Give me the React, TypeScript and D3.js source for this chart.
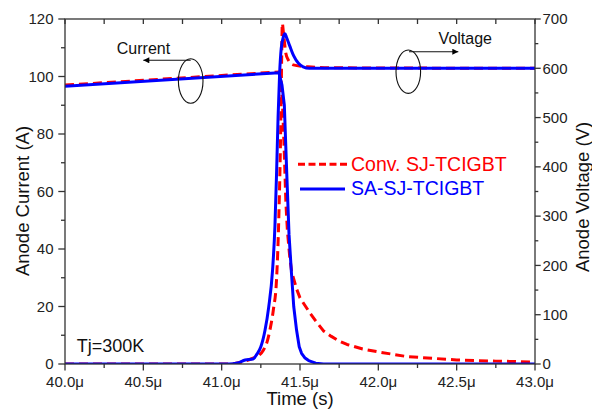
import React from "react";
import * as d3 from "d3";

// ---------- data (time in µs) ----------
const convCurrentT = [40.0, 41.37, 41.38, 41.39, 41.40, 41.41, 41.42, 41.435, 41.447, 41.479, 41.5, 41.564, 41.6, 41.65, 41.7, 41.75, 41.8, 41.9, 42.0, 42.18, 42.5, 42.75, 43.0];
const convCurrentA = [97.0, 101.6, 98, 88, 73, 56, 46, 37, 32, 26, 23, 17.7, 15, 11.5, 9.6, 8, 6.8, 5.2, 4.2, 2.6, 1.4, 1.0, 0.7];

const saCurrentT = [40.0, 41.366, 41.385, 41.40, 41.415, 41.43, 41.445, 41.46, 41.478, 41.495, 41.51, 41.53, 41.555, 41.6, 41.65, 43.0];
const saCurrentA = [96.6, 101.3, 97, 90, 67, 45, 32, 20, 11.8, 6, 3.7, 2.2, 1.2, 0.3, 0, 0];

const convVoltageT = [40.0, 41.05, 41.1, 41.15, 41.2, 41.24, 41.266, 41.29, 41.308, 41.33, 41.35, 41.365, 41.377, 41.383, 41.387, 41.395, 41.41, 41.425, 41.457, 41.55, 41.7, 43.0];
const convVoltageV = [0, 0, 2, 6, 12, 18, 28, 45, 69, 110, 170, 300, 480, 620, 691, 670, 630, 617, 607, 603, 601, 600];

const saVoltageT = [40.0, 41.05, 41.1, 41.15, 41.2, 41.225, 41.25, 41.277, 41.3, 41.325, 41.34, 41.351, 41.36, 41.37, 41.38, 41.395, 41.404, 41.415, 41.435, 41.46, 41.49, 41.52, 41.56, 43.0];
const saVoltageV = [0, 0, 2, 8, 10, 20, 35, 69, 115, 191, 280, 394, 500, 590, 640, 665, 670, 662, 645, 625, 610, 603, 600, 600];

const xTicks = [40.0, 40.5, 41.0, 41.5, 42.0, 42.5, 43.0];
const leftTicks = [0, 20, 40, 60, 80, 100, 120];
const rightTicks = [0, 100, 200, 300, 400, 500, 600, 700];

const legendLabels = ["Conv. SJ-TCIGBT", "SA-SJ-TCIGBT"];

// ---------- layout ----------
const W = 592, H = 413;
const L = 65, R = 535, T = 19, B = 364;
const FONT = "'Liberation Sans', Arial, Helvetica, sans-serif";
const RED = "#ff0000";
const BLUE = "#0000ff";
const AX = "#333333";

export default function App() {
  const x = d3.scaleLinear().domain([40, 43]).range([L, R]);
  const yL = d3.scaleLinear().domain([0, 120]).range([B, T]);
  const yR = d3.scaleLinear().domain([0, 700]).range([B, T]);

  const mk = (ts: number[], vs: number[], ys: d3.ScaleLinear<number, number>, curve: d3.CurveFactory) =>
    d3.line<number>().x((_, i) => x(ts[i])).y((v) => ys(v)).curve(curve)(vs) || "";

  const convI = mk(convCurrentT, convCurrentA, yL, d3.curveLinear);
  const saI = mk(saCurrentT, saCurrentA, yL, d3.curveLinear);
  const convV = mk(convVoltageT, convVoltageV, yR, d3.curveMonotoneX);
  const saV = mk(saVoltageT, saVoltageV, yR, d3.curveMonotoneX);

  const xMinor = d3.range(40.25, 43, 0.5);
  const leftMinor = d3.range(10, 120, 20);
  const rightMinor = d3.range(50, 700, 100);
  const fmt = d3.format(".1f");

  return (
    <svg width={W} height={H} style={{ position: "absolute", left: 0, top: 0, background: "#fff" }} fontFamily={FONT}>
      <defs>
        <clipPath id="plot">
          <rect x={L} y={T - 10} width={R - L} height={B - T + 10} />
        </clipPath>
        <marker id="arr" viewBox="0 0 10 10" refX="10" refY="5" markerWidth="8" markerHeight="6" orient="auto" markerUnits="userSpaceOnUse">
          <path d="M0,0 L10,5 L0,10 z" fill="#000" />
        </marker>
      </defs>

      {/* curves */}
      <g clipPath="url(#plot)" fill="none" strokeLinejoin="round">
        <path d={convI} stroke={RED} strokeWidth={3} strokeDasharray="9,5" />
        <path d={convV} stroke={RED} strokeWidth={3} strokeDasharray="9,5" />
        <path d={saI} stroke={BLUE} strokeWidth={3} />
        <path d={saV} stroke={BLUE} strokeWidth={3} />
      </g>

      {/* frame */}
      <rect x={L} y={T} width={R - L} height={B - T} fill="none" stroke={AX} strokeWidth={1.3} />

      {/* bottom ticks */}
      {xTicks.map((t) => (
        <g key={"xb" + t}>
          <line x1={x(t)} x2={x(t)} y1={B} y2={B + 6.5} stroke={AX} strokeWidth={1.3} />
          <line x1={x(t)} x2={x(t)} y1={T} y2={T + 5} stroke={AX} strokeWidth={1.3} />
          <text x={x(t)} y={386.5} fontSize={15} textAnchor="middle" fill="#222">{fmt(t) + "μ"}</text>
        </g>
      ))}
      {xMinor.map((t) => (
        <g key={"xm" + t}>
          <line x1={x(t)} x2={x(t)} y1={B} y2={B + 4} stroke={AX} strokeWidth={1.3} />
          <line x1={x(t)} x2={x(t)} y1={T} y2={T + 5} stroke={AX} strokeWidth={1.3} />
        </g>
      ))}

      {/* left ticks */}
      {leftTicks.map((v) => (
        <g key={"yl" + v}>
          <line x1={L - 6.7} x2={L} y1={yL(v)} y2={yL(v)} stroke={AX} strokeWidth={1.3} />
          <text x={53.5} y={yL(v)} dy="0.35em" fontSize={15} textAnchor="end" fill="#222">{v}</text>
        </g>
      ))}
      {leftMinor.map((v) => (
        <line key={"ylm" + v} x1={L - 4} x2={L} y1={yL(v)} y2={yL(v)} stroke={AX} strokeWidth={1.3} />
      ))}

      {/* right ticks */}
      {rightTicks.map((v) => (
        <g key={"yr" + v}>
          <line x1={R} x2={R + 5.7} y1={yR(v)} y2={yR(v)} stroke={AX} strokeWidth={1.3} />
          <text x={542.5} y={yR(v)} dy="0.35em" fontSize={15} textAnchor="start" fill="#222">{v}</text>
        </g>
      ))}
      {rightMinor.map((v) => (
        <line key={"yrm" + v} x1={R} x2={R + 3.3} y1={yR(v)} y2={yR(v)} stroke={AX} strokeWidth={1.3} />
      ))}

      {/* axis titles */}
      <text x={(L + R) / 2} y={405} fontSize={18.5} textAnchor="middle" fill="#111">Time (s)</text>
      <text transform={`translate(28.5,201) rotate(-90)`} fontSize={18.5} textAnchor="middle" fill="#111">Anode Current (A)</text>
      <text transform={`translate(589,197) rotate(-90)`} fontSize={18.5} textAnchor="middle" fill="#111">Anode Voltage (V)</text>

      {/* annotations */}
      <ellipse cx={190.7} cy={81} rx={12.3} ry={22.3} fill="none" stroke="#111" strokeWidth={1.1} />
      <line x1={190.7} y1={60.3} x2={143.3} y2={60.3} stroke="#111" strokeWidth={1.1} markerEnd="url(#arr)" />
      <text x={143.5} y={53.5} fontSize={16} textAnchor="middle" fill="#111">Current</text>

      <ellipse cx={408.3} cy={71.7} rx={12.3} ry={21.7} fill="none" stroke="#111" strokeWidth={1.1} />
      <line x1={409} y1={51.7} x2={458.3} y2={51.7} stroke="#111" strokeWidth={1.1} markerEnd="url(#arr)" />
      <text x={465.3} y={44} fontSize={16} textAnchor="middle" fill="#111">Voltage</text>

      <text x={76.7} y={352.3} fontSize={18} fill="#111">Tj=300K</text>

      {/* legend */}
      <line x1={298} x2={347} y1={164.3} y2={164.3} stroke={RED} strokeWidth={3} strokeDasharray="7,3.5" />
      <text x={351} y={170.7} fontSize={19.5} fill={RED}>{legendLabels[0]}</text>
      <line x1={300} x2={345} y1={189} y2={189} stroke={BLUE} strokeWidth={3} />
      <text x={351} y={195} fontSize={19.5} fill={BLUE}>{legendLabels[1]}</text>
    </svg>
  );
}
